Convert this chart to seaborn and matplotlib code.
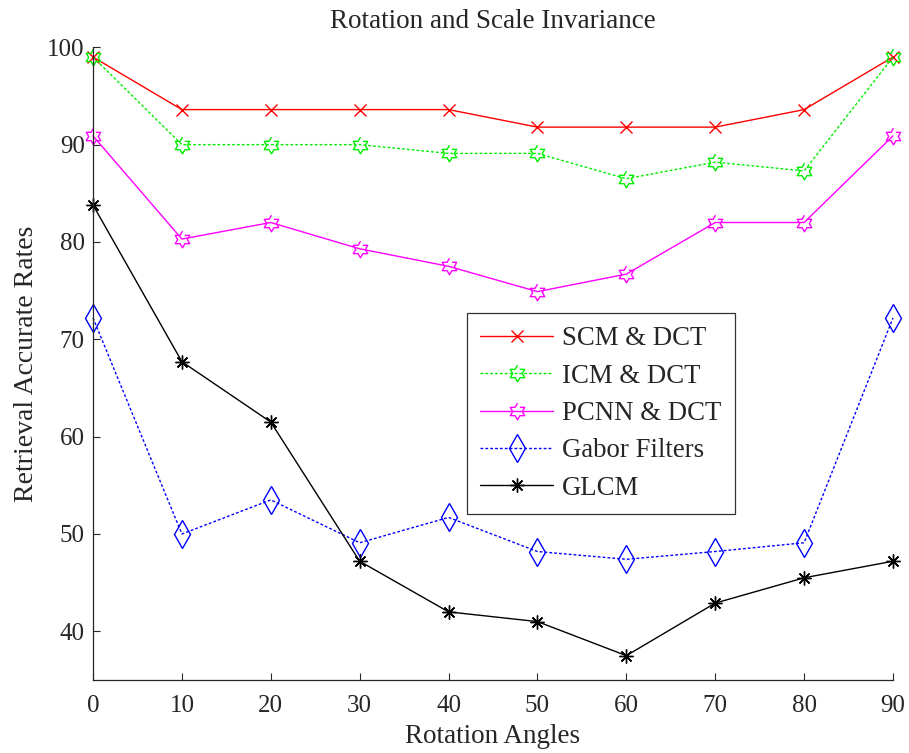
import numpy as np
import pandas as pd
import matplotlib
matplotlib.use("Agg")
import matplotlib.pyplot as plt
import seaborn as sns

angles = [0, 10, 20, 30, 40, 50, 60, 70, 80, 90]
scm_dct = [99.0, 93.6, 93.6, 93.6, 93.6, 91.8, 91.8, 91.8, 93.6, 99.0]
icm_dct = [99.0, 90.0, 90.0, 90.0, 89.1, 89.1, 86.5, 88.2, 87.3, 99.0]
pcnn_dct = [90.9, 80.3, 82.0, 79.3, 77.5, 74.9, 76.7, 82.0, 82.0, 90.9]
gabor = [72.2, 50.0, 53.5, 49.1, 51.7, 48.2, 47.4, 48.2, 49.1, 72.2]
glcm = [83.8, 67.7, 61.5, 47.2, 42.0, 41.0, 37.5, 42.9, 45.5, 47.2]
series_names = ["SCM & DCT", "ICM & DCT", "PCNN & DCT", "Gabor Filters", "GLCM"]
y_ticks = [40, 50, 60, 70, 80, 90, 100]
x_ticks = angles

sns.set_style("ticks")
plt.rcParams['font.family'] = ['Liberation Serif', 'DejaVu Serif']
plt.rcParams['xtick.direction'] = 'in'
plt.rcParams['ytick.direction'] = 'in'

# hexagram marker
ang = np.deg2rad(90 + 30 * np.arange(12))
rad = np.where(np.arange(12) % 2 == 0, 1.0, 1 / np.sqrt(3))
hexagram = list(zip(rad * np.cos(ang), rad * np.sin(ang)))

fig = plt.figure(figsize=(9.09, 7.53), dpi=100)
ax = fig.add_axes([93 / 909, 1 - 680 / 753, 800 / 909, (680 - 47.3) / 753])

values = [scm_dct, icm_dct, pcnn_dct, gabor, glcm]
colors = ["#FF0000", "#00EE00", "#FF00FF", "#0000FF", "#000000"]
styles = [
    dict(marker="x", linestyle="-", markersize=8, mfc="none"),
    dict(marker=hexagram, linestyle=(0, (2, 1.5)), markersize=12, mfc="none"),
    dict(marker=hexagram, linestyle="-", markersize=12, mfc="none"),
    dict(marker="d", linestyle=(0, (2, 1.5)), markersize=14, mfc="none"),
    dict(marker=(8, 2, 0), linestyle="-", markersize=10, mfc="none"),
]
for name, vals, col, st in zip(series_names, values, colors, styles):
    df = pd.DataFrame({"angle": angles, "rate": vals})
    sns.lineplot(data=df, x="angle", y="rate", ax=ax, label=name, linewidth=1.0,
                 color=col, markeredgecolor=col, markeredgewidth=1.0,
                 clip_on=False, **st)

ax.set_xlim(0, 90)
ax.set_ylim(35, 100)
ax.set_xticks(x_ticks)
ax.set_yticks(y_ticks)
ax.tick_params(labelsize=18, length=5, width=0.8)
ax.tick_params(axis="x", pad=11)
ax.tick_params(axis="y", pad=6)
for s in ["top", "right"]:
    ax.spines[s].set_visible(False)
for s in ["left", "bottom"]:
    ax.spines[s].set_linewidth(0.9)
ax.set_xlabel("Rotation Angles", fontsize=19.5, labelpad=5)
ax.set_ylabel("Retrieval Accurate Rates", fontsize=20, labelpad=6)
ax.set_title("Rotation and Scale Invariance", fontsize=19.5, pad=14)

leg = ax.legend(loc="upper left", bbox_to_anchor=((467 - 93) / 800, (680 - 313) / 632.7),
                borderaxespad=0, fontsize=19.3, frameon=True, fancybox=False,
                edgecolor="black", handlelength=2.72, labelspacing=0.46, borderpad=0.5,
                handletextpad=0.33)
leg.get_frame().set_linewidth(0.9)

fig.savefig("out.png", dpi=100)
